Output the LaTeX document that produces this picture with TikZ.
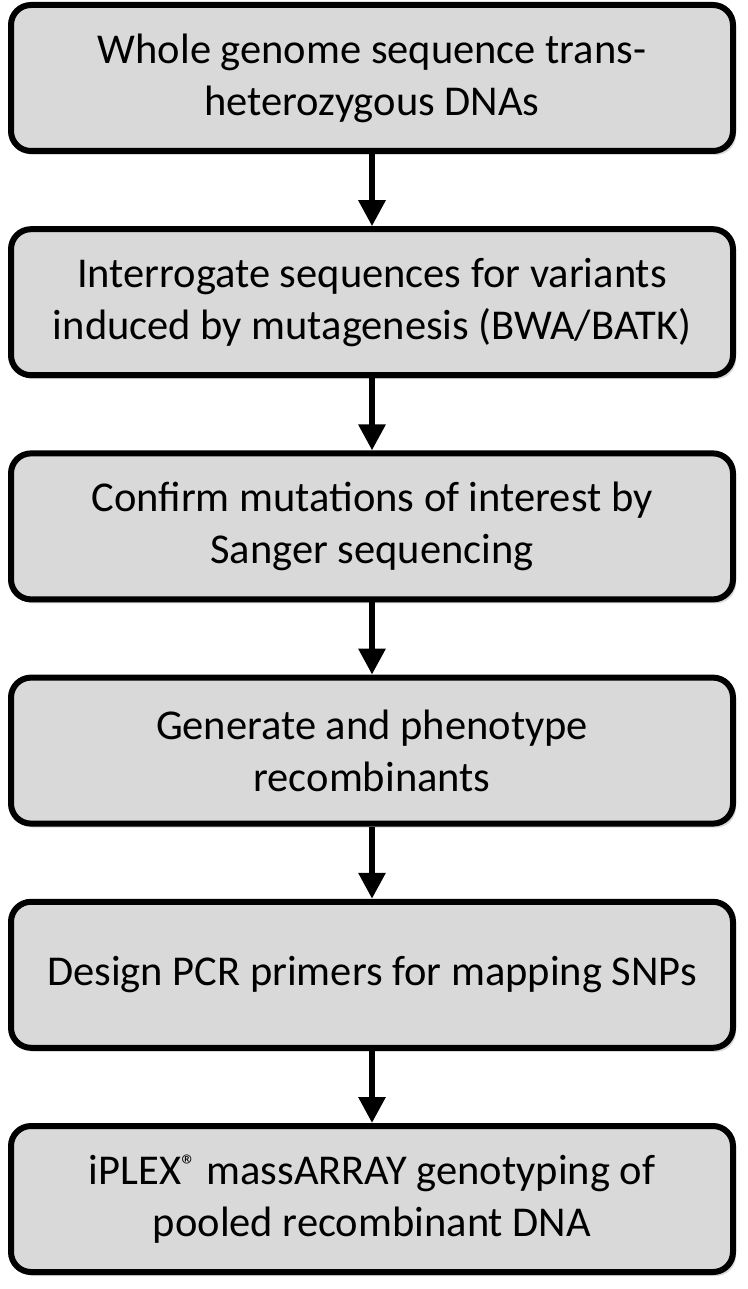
\documentclass[tikz,border=0pt]{standalone}
\usepackage{fontspec}
\setmainfont{Carlito}
\usetikzlibrary{arrows.meta,shadows}

\definecolor{boxgray}{RGB}{217,217,217}

\tikzset{
    stepbox/.style={draw, line width=6pt, rounded corners=20pt, fill=boxgray,
        minimum width=722pt, minimum height=146pt, align=center,
        font=\fontsize{42.5}{52}\selectfont,
        drop shadow={shadow xshift=3pt, shadow yshift=-4pt, opacity=0.3}},
    steparrow/.style={line width=6pt, -{Triangle[width=26pt,length=26pt]}}
}

\begin{document}
\begin{tikzpicture}[x=1pt,y=1pt]
        \useasboundingbox (0,0) rectangle (747,-1289);
        % Draw boxes (steps)
        \foreach \i/\x in {
            1/{Whole genome sequence trans-\\heterozygous DNAs},
            2/{Interrogate sequences for variants\\induced by mutagenesis (BWA/BATK)},
            3/{Confirm mutations of interest by\\Sanger sequencing},
            4/{Generate and phenotype\\recombinants},
            5/{Design PCR primers for mapping SNPs},
            6/{iPLEX\textsuperscript{®} massARRAY genotyping of\\pooled recombinant DNA}}{
            \node[stepbox] (step\i) at (372,{-78-(\i-1)*224.2}) {\x};
        }
        % Draw arrows between steps
        \foreach \i in {2,...,6}{
            \pgfmathtruncatemacro{\j}{\i-1}
            \draw[steparrow] (step\j) -- (step\i);
        }
    \end{tikzpicture}
\end{document}
